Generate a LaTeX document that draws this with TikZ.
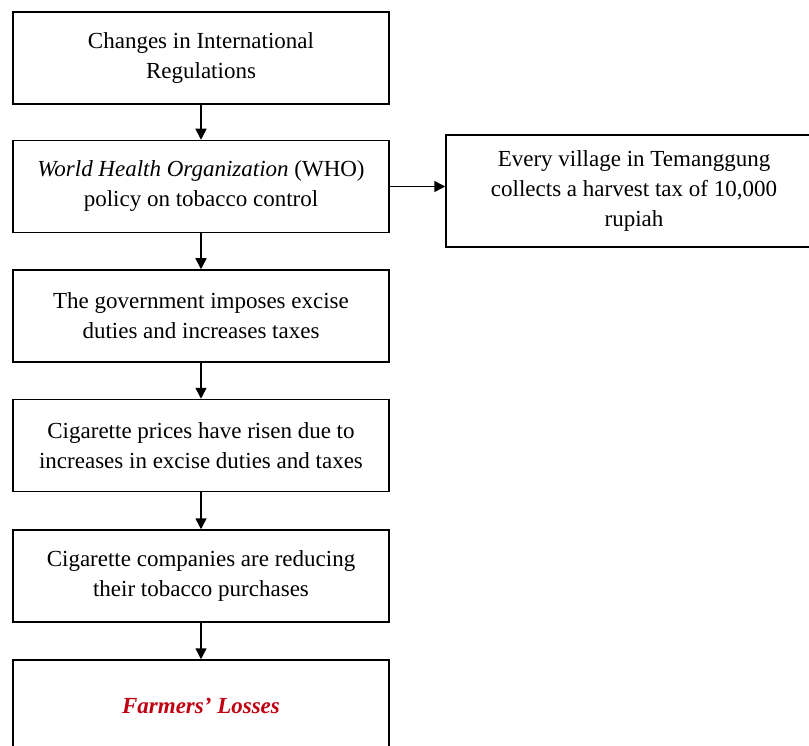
\documentclass[tikz,border=0pt]{standalone}
\usepackage{fontspec}
\setmainfont{Liberation Serif}
\usetikzlibrary{arrows.meta}
\definecolor{lossred}{RGB}{192,0,16}

\begin{document}
\begin{tikzpicture}[x=1pt,y=1pt,line width=1.5pt]

\tikzstyle{stepbox} = [draw,rectangle,minimum width=376pt,minimum height=92pt,align=center,font=\fontsize{23}{30}\selectfont];
\tikzstyle{boldarrow}=[-{Triangle[length=11pt,width=11pt]},line width=1.5pt];

\clip (0,0) rectangle (809,-746);

\node[stepbox] (v1) at (201,-58) {Changes in International\\Regulations};
\node[stepbox] (v2) at (201,-186.5) {\textit{World Health Organization} (WHO)\\policy on tobacco control};
\node[stepbox] (v3) at (201,-316) {The government imposes excise\\duties and increases taxes};
\node[stepbox] (v4) at (201,-445.5) {Cigarette\ prices have risen due to\\increases in excise duties and taxes};
\node[stepbox] (v5) at (201,-576) {Cigarette\ companies are reducing\\their tobacco purchases};
\node[stepbox] (v6) at (201,-706) {\textcolor{lossred}{\textbf{\textit{Farmers' Losses}}}};
\node[stepbox,minimum height=112pt] (v7) at (634,-191) {Every village in Temanggung\\collects a harvest tax of 10,000\\rupiah};

\draw[boldarrow] (v1) edge (v2);
\draw[boldarrow] (v2) edge (v3);
\draw[boldarrow] (v3) edge (v4);
\draw[boldarrow] (v4) edge (v5);
\draw[boldarrow] (v5) edge (v6);
\draw[boldarrow] (v2.east) -- (v7.west |- v2.east);

\end{tikzpicture}
\end{document}
